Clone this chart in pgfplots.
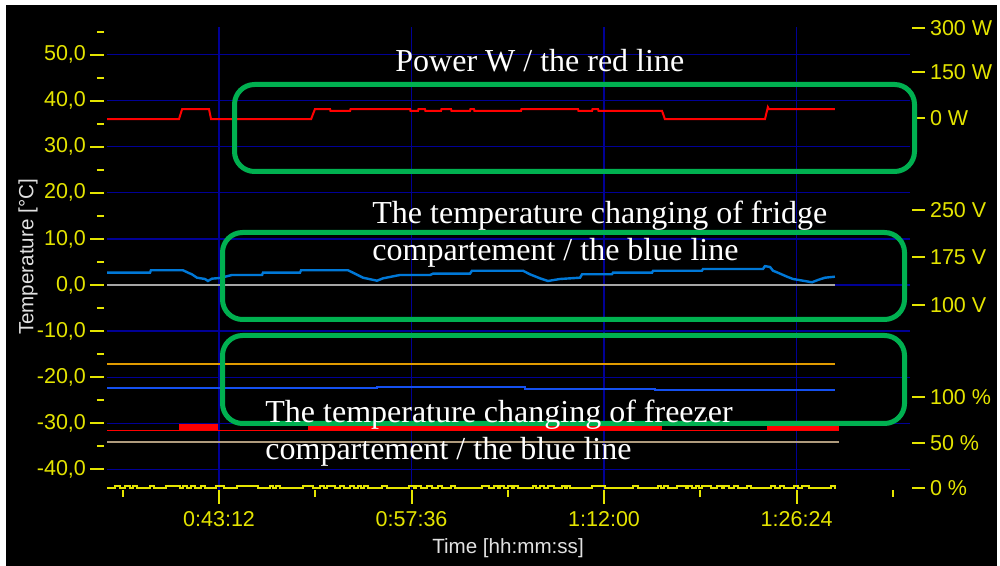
\documentclass[border=0pt]{standalone}
\usepackage{pgfplots}
\pgfplotsset{compat=1.18}
\usepackage{fontspec}
\setmainfont{Liberation Sans}
\newfontfamily\serif{Liberation Serif}
\definecolor{tickyellow}{RGB}{228,228,0}
\definecolor{gridblue}{RGB}{0,0,150}
\definecolor{boxgreen}{RGB}{0,176,80}
\definecolor{fridgeblue}{RGB}{0,120,215}
\definecolor{freezerblue}{RGB}{20,80,240}
\definecolor{orangeline}{RGB}{225,155,0}
\definecolor{tanline}{RGB}{175,155,125}
\definecolor{grayline}{RGB}{165,165,165}
\definecolor{labelwhite}{RGB}{225,225,225}

\begin{document}
\begin{tikzpicture}
\useasboundingbox (0,0) rectangle (500pt,283pt);
\fill[white] (0,0) rectangle (500pt,283pt);
\fill[black] (3pt,0) rectangle (498.5pt,280.5pt);

\begin{axis}[
  at={(53.5pt,38pt)}, anchor=south west,
  width=401.5pt, height=231.5pt, scale only axis,
  xmin=2089, xmax=5693, ymin=-44.5, ymax=56,
  axis line style={draw=none},
  tick pos=left, tick align=outside,
  xtick={2592,3456,4320,5184},
  xticklabels={0:43:12,0:57:36,1:12:00,1:26:24},
  minor xtick={2160,3024,3888,4752,5616},
  ytick={-40,-30,...,50},
  yticklabels={{-40,0},{-30,0},{-20,0},{-10,0},{0,0},{10,0},{20,0},{30,0},{40,0},{50,0}},
  minor ytick={-35,-25,...,55},
  major tick length=7pt, minor tick length=3.5pt,
  every tick/.style={tickyellow, line width=1pt},
  every y tick/.append style={xshift=-1.5pt},
  xmajorgrids, ymajorgrids,
  major grid style={gridblue, line width=0.6pt},
  ticklabel style={font=\fontsize{10.75}{12}\selectfont, text=tickyellow},
  no marks,
]
% gray zero line
\addplot[grayline, line width=1.2pt] coordinates {(2089,0)(5356,0)};
% power (red)
\addplot[red, line width=1pt] coordinates {
(2089,36.0)(2412,36.0)(2426,38.15)(2547,38.15)(2556,36.0)(3005,36.0)(3022,38.15)(3090,38.15)(3092,37.8)(3180,37.8)(3182,38.15)(3449,38.15)(3451,37.8)(3485,37.8)(3487,38.15)(3516,38.15)(3518,37.8)(3588,37.8)(3590,38.15)(3633,38.15)(3635,37.8)(3718,37.8)(3720,38.15)(3736,38.15)(3738,37.8)(3947,37.8)(3949,38.15)(4203,38.15)(4205,37.8)(4266,37.8)(4268,38.15)(4293,38.15)(4295,37.8)(4580,37.8)(4593,36.0)(5042,36.0)(5055,38.6)(5060,38.15)(5356,38.15)};
% fridge temperature
\addplot[fridgeblue, line width=1.2pt] coordinates {
(2089,2.67)(2282,2.67)(2286,3.19)(2430,3.19)(2453,2.67)(2470,2.32)(2493,1.58)(2529,1.3)(2542,0.87)(2560,1.37)(2596,1.52)(2650,2.17)(2785,2.17)(2789,2.67)(2955,2.67)(2960,3.19)(3171,3.19)(3193,2.67)(3238,1.58)(3301,0.93)(3328,1.45)(3404,2.17)(3539,2.17)(3552,2.45)(3718,2.45)(3727,3.1)(3956,3.1)(3987,2.32)(4032,1.45)(4068,0.87)(4122,1.3)(4212,1.58)(4221,2.32)(4355,2.32)(4360,2.67)(4535,2.67)(4540,3.1)(4759,3.1)(4764,3.47)(5033,3.47)(5042,4.1)(5065,3.9)(5078,3.1)(5100,2.67)(5141,1.8)(5168,1.3)(5253,0.59)(5280,1.09)(5311,1.58)(5356,1.8)};
% orange
\addplot[orangeline, line width=0.8pt] coordinates {(2089,-17.2)(5356,-17.2)};
% freezer temperature
\addplot[freezerblue, line width=1pt] coordinates {
(2089,-22.43)(3301,-22.43)(3301,-22.15)(3965,-22.15)(3965,-22.5)(4548,-22.5)(4548,-22.86)(5356,-22.86)};
% red state line
\addplot[red, line width=0.8pt] coordinates {(2089,-31.55)(5374,-31.55)};
\addplot[red, line width=3.5pt] coordinates {(2412,-30.94)(2587,-30.94)};
\addplot[red, line width=3.5pt] coordinates {(2991,-30.94)(4580,-30.94)};
\addplot[red, line width=3.5pt] coordinates {(5051,-30.94)(5374,-30.94)};
% tan
\addplot[tanline, line width=1pt] coordinates {(2089,-34.15)(5374,-34.15)};
% yellow
\addplot[tickyellow, line width=1pt, const plot] coordinates {
(2089,-44.07)
(2126,-43.57)(2149,-44.07)(2172,-43.57)(2190,-44.07)(2206,-43.57)(2222,-44.07)
(2282,-43.57)(2300,-44.07)(2355,-43.57)(2417,-44.07)(2429,-43.57)(2447,-44.07)
(2465,-43.57)(2484,-44.07)(2511,-43.57)(2527,-44.07)(2580,-43.57)(2612,-44.07)
(2671,-43.57)(2768,-44.07)(2820,-43.57)(2836,-44.07)(2848,-43.57)(2864,-44.07)
(2969,-43.57)(3015,-44.07)(3047,-43.57)(3065,-44.07)(3077,-43.57)(3111,-44.07)
(3134,-43.57)(3152,-44.07)(3180,-43.57)(3198,-44.07)(3214,-43.57)(3230,-44.07)
(3244,-43.57)(3260,-44.07)(3322,-43.57)(3345,-44.07)(3443,-43.57)(3466,-44.07)
(3477,-43.57)(3500,-44.07)(3523,-43.57)(3546,-44.07)(3574,-43.57)(3592,-44.07)
(3633,-43.57)(3649,-44.07)(3771,-43.57)(3803,-44.07)(3826,-43.57)(3844,-44.07)
(3855,-43.57)(3871,-44.07)(3890,-43.57)(3908,-44.07)(3917,-43.57)(3935,-44.07)
(4000,-43.57)(4016,-44.07)(4032,-43.57)(4050,-44.07)(4068,-43.57)(4096,-44.07)
(4132,-43.57)(4146,-44.07)(4155,-43.57)(4169,-44.07)(4267,-43.57)(4325,-44.07)
(4451,-43.57)(4474,-44.07)(4561,-43.57)(4577,-44.07)(4590,-43.57)(4609,-44.07)
(4645,-43.57)(4686,-44.07)(4696,-43.57)(4714,-44.07)(4732,-43.57)(4746,-44.07)
(4760,-43.57)(4801,-44.07)(4828,-43.57)(4847,-44.07)(4856,-43.57)(4879,-44.07)
(4902,-43.57)(4920,-44.07)(4961,-43.57)(4980,-44.07)(5069,-43.57)(5085,-44.07)
(5108,-43.57)(5126,-44.07)(5172,-43.57)(5190,-44.07)(5209,-43.57)(5241,-44.07)
(5337,-43.57)(5355,-44.07)(5356,-44.07)};
\end{axis}

\begin{axis}[
  at={(53.5pt,38pt)}, anchor=south west,
  width=401.5pt, height=231.5pt, scale only axis,
  xmin=2089, xmax=5693, ymin=-44.5, ymax=56,
  axis line style={draw=none},
  xtick=\empty,
  ytick pos=right, yticklabel pos=right, tick align=outside,
  ytick={-44.1,-34.3,-24.3,-4.3,6.1,16.3,36.3,46.2,55.8},
  yticklabels={0 \%,50 \%,100 \%,100 V,175 V,250 V,0 W,150 W,300 W},
  major tick length=6.5pt,
  every tick/.style={tickyellow, line width=1pt},
  every y tick/.append style={xshift=1pt},
  ticklabel style={font=\fontsize{10.75}{12}\selectfont, text=tickyellow},
]
\end{axis}

\begin{scope}[shift={(0pt,283pt)}, x=0.5pt, y=-0.5pt]
\draw[boxgreen, line width=2.5pt, rounded corners=10pt] (234.5,84.5) rectangle (914.5,171.5);
\draw[boxgreen, line width=2.5pt, rounded corners=10pt] (222.5,232.5) rectangle (904.5,319.5);
\draw[boxgreen, line width=2.5pt, rounded corners=10pt] (222.5,335.5) rectangle (904.5,423.5);
\begin{scope}[every node/.style={anchor=base west, inner sep=0pt, text=white, font=\serif\fontsize{16}{18.5}\selectfont}]
\node at (395,71.5) {Power W / the red line};
\node at (372,224) {The temperature changing of fridge};
\node at (372,261) {compartement / the blue line};
\node at (265,423) {The temperature changing of freezer};
\node at (265,460) {compartement / the blue line};
\end{scope}
\node[rotate=90, text=labelwhite, font=\fontsize{10.3}{12}\selectfont] at (28,257) {Temperature [°C]};
\node[text=labelwhite, font=\fontsize{10.3}{12}\selectfont] at (508,548) {Time [hh:mm:ss]};
\end{scope}
\end{tikzpicture}
\end{document}
